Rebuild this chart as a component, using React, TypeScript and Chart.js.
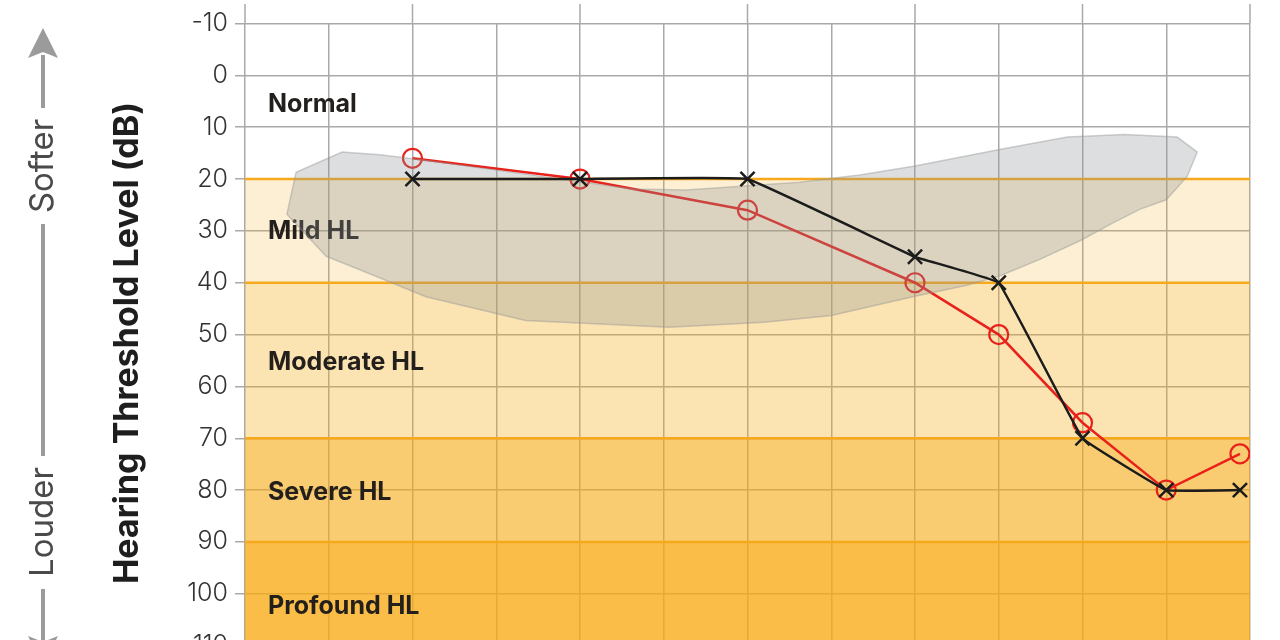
import { useEffect, useRef } from 'react';
import { Chart, registerables } from 'chart.js';

Chart.register(...registerables);

// frequency positions in half-octave steps (0 = 125 Hz ... 12 = 8 kHz edge)
const freqLabels = ['250', '500', '1000', '2000', '3000', '4000', '6000', '8000'];
const freqPos = [2, 4, 6, 8, 9, 10, 11, 11.88];
const rightEar = [16, 20, 26, 40, 50, 67, 80, 73];
const leftEar = [20, 20, 20, 35, 40, 70, 80, 80];

// speech banana outline
const bananaX = [0.5, 0.61, 1.16, 1.61, 2.16, 4.63, 5.27, 6.62, 7.34, 8.0, 9.01, 9.82, 10.5, 11.13, 11.37, 11.25, 11.0, 10.69, 10.37, 9.97, 9.49, 9.01, 8.62, 8.0, 7.0, 6.2, 5.06, 3.35, 2.16, 1.57, 0.97];
const bananaDb = [26.8, 18.7, 14.8, 15.3, 16.4, 21.9, 22.1, 20.6, 19.2, 17.5, 14.3, 11.9, 11.4, 11.9, 14.8, 19.5, 24.0, 25.8, 28.4, 31.9, 35.5, 38.7, 40.5, 42.6, 46.3, 47.6, 48.6, 47.3, 42.7, 38.8, 34.9];

// hearing loss bands
const bandNames = ['Normal', 'Mild HL', 'Moderate HL', 'Severe HL', 'Profound HL'];
const bandFrom = [-10, 20, 40, 70, 90];
const bandTo = [20, 40, 70, 90, 120];
const bandLabelDb = [5.6, 30.2, 55.4, 80.4, 102.5];
const bandAlpha = [0, 0.19, 0.33, 0.6, 0.78];

const yTicksMin = -10;
const yTicksMax = 120;

const bandsPlugin = {
    id: 'bands',
    beforeDatasetsDraw(chart: any) {
        const { ctx, chartArea, scales } = chart;
        const y = scales.y;
        const x = scales.x;
        ctx.save();
        // extend octave grid lines above the top
        ctx.strokeStyle = '#a9a9a9';
        ctx.lineWidth = 1.5;
        for (let i = 0; i <= 12; i += 2) {
            const px = x.getPixelForValue(i);
            ctx.beginPath();
            ctx.moveTo(px, 4);
            ctx.lineTo(px, chartArea.top);
            ctx.stroke();
        }
        bandNames.forEach((_, i) => {
            if (bandAlpha[i] <= 0) return;
            const top = y.getPixelForValue(bandFrom[i]);
            const bottom = y.getPixelForValue(bandTo[i]);
            ctx.fillStyle = `rgba(247,170,20,${bandAlpha[i]})`;
            ctx.fillRect(chartArea.left, top, chartArea.right - chartArea.left, bottom - top);
        });
        ctx.strokeStyle = '#f7a91e';
        ctx.lineWidth = 2.5;
        bandFrom.slice(1).forEach((v) => {
            const py = y.getPixelForValue(v);
            ctx.beginPath();
            ctx.moveTo(chartArea.left, py);
            ctx.lineTo(chartArea.right, py);
            ctx.stroke();
        });
        ctx.fillStyle = '#231f1c';
        ctx.font = 'bold 25px Inter, "DejaVu Sans", sans-serif';
        ctx.textAlign = 'left';
        ctx.textBaseline = 'middle';
        bandNames.forEach((name, i) => {
            ctx.fillText(name, chartArea.left + 23, y.getPixelForValue(bandLabelDb[i]));
        });
        ctx.restore();
    }
};

const sideTextPlugin = {
    id: 'sideText',
    afterDraw(chart: any) {
        const { ctx } = chart;
        ctx.save();
        // Softer / Louder arrow
        const ax = 43;
        ctx.strokeStyle = '#9b9b9b';
        ctx.fillStyle = '#9b9b9b';
        ctx.lineWidth = 4;
        ctx.beginPath();
        ctx.moveTo(ax, 55);
        ctx.lineTo(ax, 108);
        ctx.moveTo(ax, 224);
        ctx.lineTo(ax, 456);
        ctx.moveTo(ax, 589);
        ctx.lineTo(ax, 640);
        ctx.stroke();
        ctx.beginPath();
        ctx.moveTo(ax, 28);
        ctx.lineTo(ax - 15, 58);
        ctx.lineTo(ax, 52);
        ctx.lineTo(ax + 15, 58);
        ctx.closePath();
        ctx.fill();
        ctx.beginPath();
        ctx.moveTo(ax, 666);
        ctx.lineTo(ax - 15, 636);
        ctx.lineTo(ax, 642);
        ctx.lineTo(ax + 15, 636);
        ctx.closePath();
        ctx.fill();

        ctx.textAlign = 'center';
        ctx.textBaseline = 'middle';
        ctx.fillStyle = '#4a4a4a';
        ctx.font = '33px Inter, "DejaVu Sans", sans-serif';
        ctx.save();
        ctx.translate(ax, 166);
        ctx.rotate(-Math.PI / 2);
        ctx.fillText('Softer', 0, 0);
        ctx.restore();
        ctx.save();
        ctx.translate(ax, 522);
        ctx.rotate(-Math.PI / 2);
        ctx.fillText('Louder', 0, 0);
        ctx.restore();

        ctx.fillStyle = '#1e1e1e';
        ctx.font = 'bold 34px Inter, "DejaVu Sans", sans-serif';
        ctx.save();
        ctx.translate(128, 343);
        ctx.rotate(-Math.PI / 2);
        ctx.fillText('Hearing Threshold Level (dB)', 0, 0);
        ctx.restore();
        ctx.restore();
    }
};

export default function App() {
    const canvasRef = useRef<HTMLCanvasElement>(null);

    useEffect(() => {
        if (!canvasRef.current) return;
        const ctx = canvasRef.current.getContext('2d');
        if (!ctx) return;

        const banana = bananaX.map((x, i) => ({ x, y: bananaDb[i] }));
        banana.push({ ...banana[0] });

        const chart = new Chart(ctx, {
            type: 'line',
            data: {
                labels: freqLabels,
                datasets: [
                    {
                        label: 'Right ear',
                        data: freqPos.map((x, i) => ({ x, y: rightEar[i] })),
                        borderColor: '#e8221b',
                        borderWidth: 2.5,
                        pointStyle: 'circle',
                        pointRadius: 9.5,
                        pointBorderWidth: 2.2,
                        pointBorderColor: '#e8221b',
                        pointBackgroundColor: 'rgba(0,0,0,0)',
                        fill: false,
                        tension: 0,
                        order: 3
                    },
                    {
                        label: 'Speech banana',
                        data: banana,
                        borderColor: 'rgba(150,150,150,0.45)',
                        borderWidth: 1.5,
                        backgroundColor: 'rgba(140,145,150,0.3)',
                        pointRadius: 0,
                        fill: 'shape',
                        tension: 0,
                        order: 2
                    },
                    {
                        label: 'Left ear',
                        data: freqPos.map((x, i) => ({ x, y: leftEar[i] })),
                        borderColor: '#1c1c1c',
                        borderWidth: 2.5,
                        pointStyle: 'crossRot',
                        pointRadius: 10,
                        pointBorderWidth: 2.5,
                        pointBorderColor: '#1c1c1c',
                        fill: false,
                        tension: 0.06,
                        order: 1
                    }
                ]
            },
            options: {
                responsive: false,
                maintainAspectRatio: false,
                animation: false,
                events: [],
                layout: {
                    padding: { left: 0, right: 30, top: 23.5, bottom: 22.5 }
                },
                plugins: {
                    legend: { display: false },
                    tooltip: { enabled: false }
                },
                scales: {
                    x: {
                        type: 'linear',
                        min: 0,
                        max: 12,
                        border: { display: false },
                        grid: { color: '#a9a9a9', lineWidth: 1.5, drawTicks: false },
                        ticks: { display: false, stepSize: 1 },
                        afterFit: (scale: any) => {
                            scale.height = 0;
                        }
                    },
                    y: {
                        type: 'linear',
                        reverse: true,
                        min: yTicksMin,
                        max: yTicksMax,
                        border: { display: false },
                        grid: { color: '#a9a9a9', lineWidth: 1.5, tickLength: 10, drawTicks: true },
                        ticks: {
                            stepSize: 10,
                            padding: 7,
                            color: '#333333',
                            font: { family: 'Inter, "DejaVu Sans", sans-serif', size: 25, weight: 300 }
                        },
                        afterFit: (scale: any) => {
                            scale.width = 245;
                        }
                    }
                }
            },
            plugins: [bandsPlugin, sideTextPlugin]
        });

        return () => {
            chart.destroy();
        };
    }, []);

    return (
        <div style={{ position: 'fixed', left: 0, top: 0, width: 1280, height: 640, overflow: 'hidden', background: '#ffffff' }}>
            <canvas ref={canvasRef} width={1280} height={720} style={{ width: '1280px', height: '720px' }} />
        </div>
    );
}
